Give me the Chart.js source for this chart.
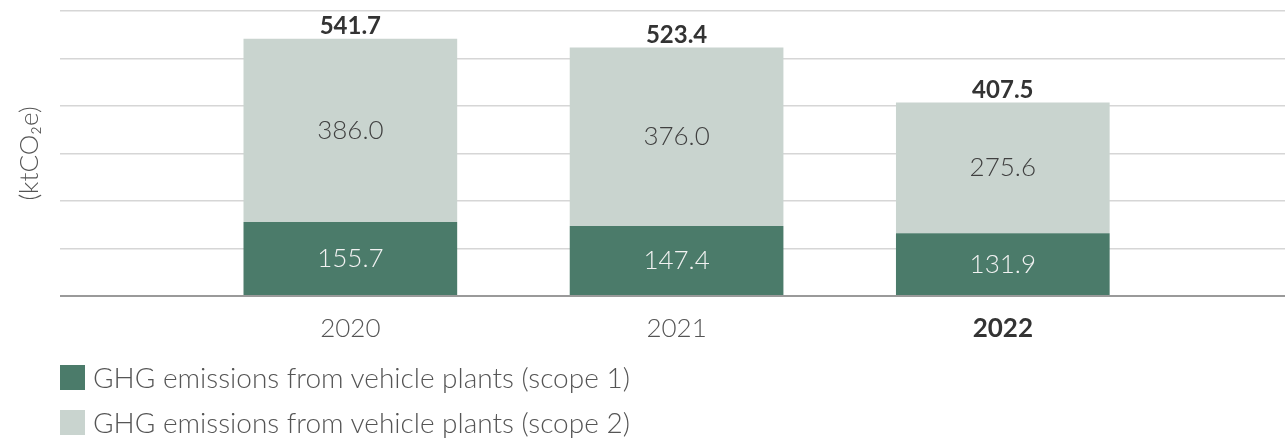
<!DOCTYPE html>
<html>
<head>
<meta charset="utf-8">
<script src="https://cdn.jsdelivr.net/npm/chart.js@4/dist/chart.umd.min.js"></script>
<style>
  body { margin: 0; background: #fff; }
  #wrap { position: relative; width: 1285px; height: 440px; }
  #legend { position: absolute; left: 60px; top: 365px; font-family: Lato, sans-serif; font-weight: 300; font-size: 28px; color: #555; }
  .item { height: 45px; display: flex; align-items: flex-start; }
  .box { width: 25px; height: 25px; margin-right: 8px; flex: none; }
  .item span { line-height: 25px; white-space: nowrap; }
</style>
</head>
<body>
<div id="wrap">
  <canvas id="myChart"></canvas>
  <div id="legend"></div>
</div>
<script>
// data
var years = [2020, 2021, 2022];
var scope1 = [155.7, 147.4, 131.9];
var scope2 = [386.0, 376.0, 275.6];
var totals = [541.7, 523.4, 407.5];
var seriesNames = ["GHG emissions from vehicle plants (scope 1)", "GHG emissions from vehicle plants (scope 2)"];
var yTicks = [0, 100, 200, 300, 400, 500, 600];

var colors = ['#4b7b6a', '#c9d4cf'];
var labelColors = ['#f2f2f2', '#404040'];
var fontFamily = 'Lato, sans-serif';

// labels inside the bars and totals on top
var valueLabels = {
    id: 'valueLabels',
    afterDatasetsDraw: function (chart) {
        var ctx = chart.ctx;
        ctx.save();
        ctx.textAlign = 'center';
        ctx.textBaseline = 'middle';
        chart.data.datasets.forEach(function (ds, i) {
            var meta = chart.getDatasetMeta(i);
            meta.data.forEach(function (bar, j) {
                ctx.fillStyle = labelColors[i];
                ctx.font = '300 26px ' + fontFamily;
                ctx.fillText(ds.data[j].toFixed(1), bar.x, (bar.y + bar.base) / 2);
            });
        });
        var top = chart.getDatasetMeta(chart.data.datasets.length - 1);
        top.data.forEach(function (bar, j) {
            ctx.fillStyle = '#333';
            ctx.font = 'bold 24px ' + fontFamily;
            ctx.fillText(totals[j].toFixed(1), bar.x, bar.y - 12);
        });
        ctx.restore();
    }
};

var ctx = document.getElementById("myChart");
var myChart = new Chart(ctx, {
    type: 'bar',
    data: {
        labels: years,
        datasets: [{
                label: seriesNames[0],
                backgroundColor: colors[0],
                data: scope1,
                categoryPercentage: 0.655,
                barPercentage: 1
            }, {
                label: seriesNames[1],
                backgroundColor: colors[1],
                data: scope2,
                categoryPercentage: 0.655,
                barPercentage: 1
            }
        ]
    },
    options: {
        responsive: true,
        maintainAspectRatio: false,
        animation: false,
        layout: { padding: { top: 11, right: 0, left: 0, bottom: 0 } },
        plugins: {
            legend: { display: false },
            tooltip: { enabled: false }
        },
        scales: {
            x: {
                type: 'linear',
                stacked: true,
                offset: false,
                min: 2019.11,
                max: 2022.865,
                grid: { display: false },
                border: { display: false },
                ticks: {
                    stepSize: 1,
                    includeBounds: false,
                    maxRotation: 0,
                    padding: 9,
                    callback: function (v) { return String(v); },
                    color: function (c) { return c.tick && c.tick.value === 2022 ? '#333' : '#555'; },
                    font: function (c) {
                        return { family: fontFamily, size: 26, weight: c.tick && c.tick.value === 2022 ? 'bold' : '300' };
                    }
                },
                afterFit: function (scale) { scale.height = 144; }
            },
            y: {
                stacked: true,
                min: yTicks[0],
                max: yTicks[yTicks.length - 1],
                afterBuildTicks: function (scale) {
                    scale.ticks = yTicks.map(function (v) { return { value: v }; });
                },
                ticks: { display: false },
                grid: {
                    drawTicks: false,
                    color: function (c) { return c.tick && c.tick.value === 0 ? '#9a9a9a' : '#d6d6d6'; },
                    lineWidth: function (c) { return c.tick && c.tick.value === 0 ? 2 : 1.5; }
                },
                border: { display: false },
                title: {
                    display: true,
                    text: '(ktCO₂e)',
                    color: '#555',
                    font: { family: fontFamily, size: 26, weight: '300' },
                    padding: { top: 14, bottom: 0 }
                },
                afterFit: function (scale) { scale.width = 60; }
            }
        }
    },
    plugins: [valueLabels]
});

// legend as html rows
var legend = document.getElementById('legend');
seriesNames.forEach(function (name, i) {
    var row = document.createElement('div');
    row.className = 'item';
    row.innerHTML = '<div class="box" style="background:' + colors[i] + '"></div><span></span>';
    row.querySelector('span').textContent = name;
    legend.appendChild(row);
});
</script>
</body>
</html>
